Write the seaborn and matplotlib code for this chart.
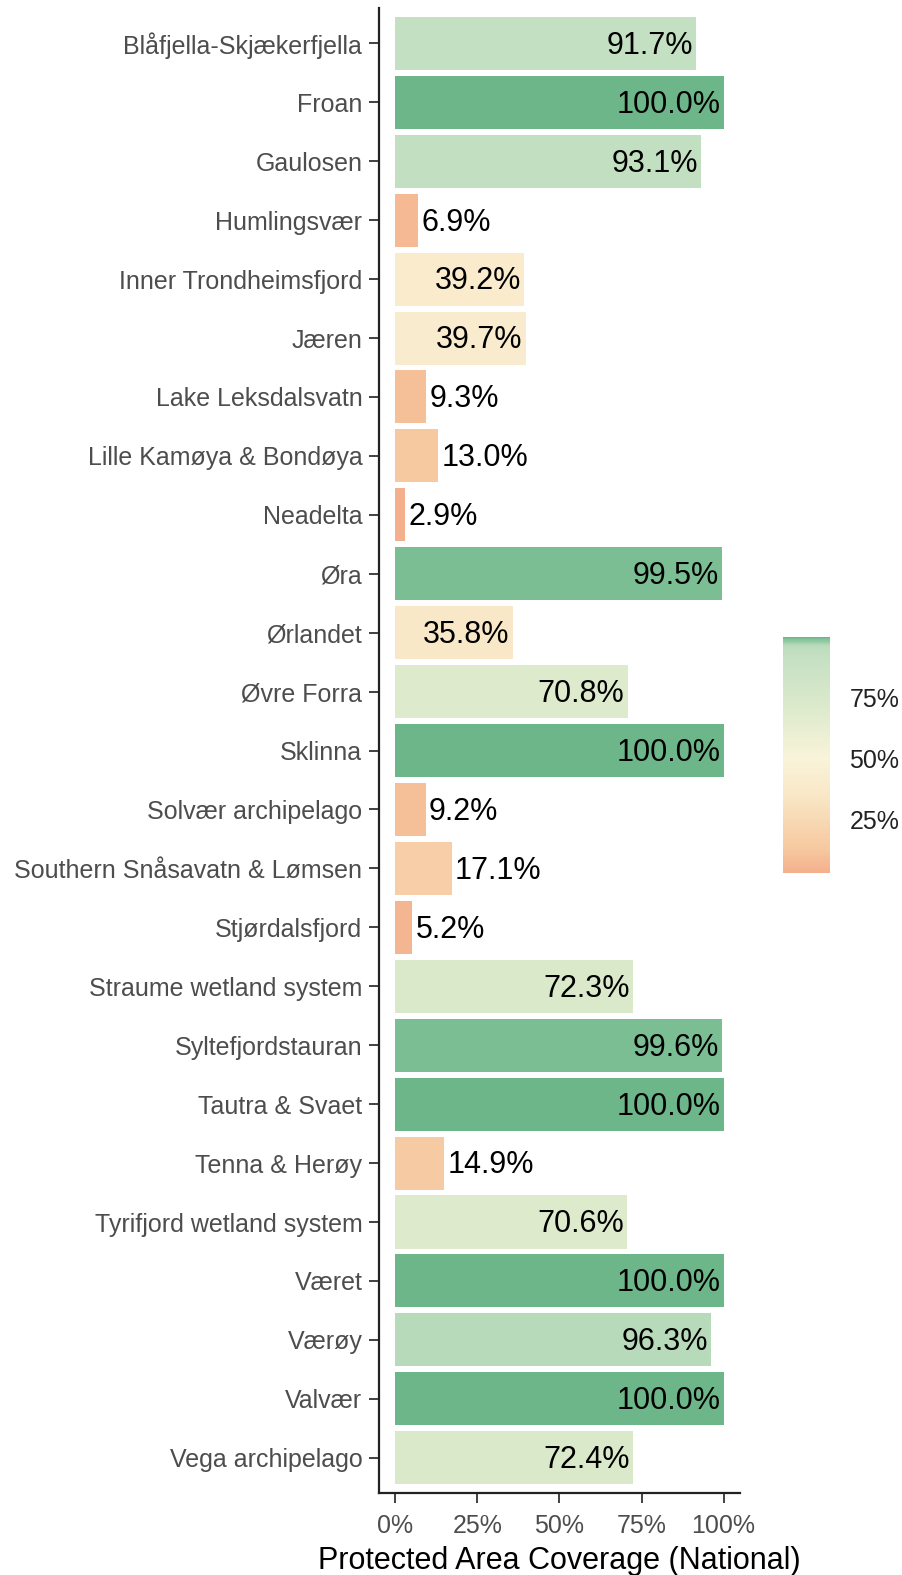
import numpy as np
import pandas as pd
import matplotlib
matplotlib.use("Agg")
import matplotlib.pyplot as plt
import seaborn as sns
from matplotlib.colors import LinearSegmentedColormap, Normalize
from matplotlib.cm import ScalarMappable

sites = ["Blåfjella-Skjækerfjella", "Froan", "Gaulosen", "Humlingsvær",
         "Inner Trondheimsfjord", "Jæren", "Lake Leksdalsvatn",
         "Lille Kamøya & Bondøya", "Neadelta", "Øra", "Ørlandet", "Øvre Forra",
         "Sklinna", "Solvær archipelago", "Southern Snåsavatn & Lømsen",
         "Stjørdalsfjord", "Straume wetland system", "Syltefjordstauran",
         "Tautra & Svaet", "Tenna & Herøy", "Tyrifjord wetland system",
         "Været", "Værøy", "Valvær", "Vega archipelago"]
coverage = [91.7, 100.0, 93.1, 6.9, 39.2, 39.7, 9.3, 13.0, 2.9, 99.5, 35.8,
            70.8, 100.0, 9.2, 17.1, 5.2, 72.3, 99.6, 100.0, 14.9, 70.6,
            100.0, 96.3, 100.0, 72.4]
cbar_ticks = [25, 50, 75]

vmin, vmax = 2.9, 100.0
stops = [(2.9, "#F4B08C"), (13.0, "#F6C9A0"), (35.8, "#F9E8C8"),
         (50.0, "#F9F3D9"), (70.8, "#DDEACC"), (91.7, "#C5E0C3"),
         (96.3, "#BCDCBD"), (99.5, "#80C196"), (100.0, "#6CB689")]
cmap = LinearSegmentedColormap.from_list(
    "cov", [((v - vmin) / (vmax - vmin), c) for v, c in stops])
norm = Normalize(vmin=vmin, vmax=vmax)

df = pd.DataFrame({"site": sites, "coverage": coverage})
palette = {s: cmap(norm(v)) for s, v in zip(sites, coverage)}

sns.set_style("white")
plt.rcParams["font.family"] = ["Liberation Sans", "DejaVu Sans"]

fig = plt.figure(figsize=(9.03, 15.75), dpi=100)
ax = fig.add_axes([0.4197, 0.052, 0.8195 - 0.4197, 0.9949 - 0.052])

sns.barplot(data=df, x="coverage", y="site", hue="site", palette=palette,
            order=sites, hue_order=sites, width=0.9, legend=False,
            saturation=1, ax=ax, edgecolor="none")

for i, v in enumerate(coverage):
    lab = f"{v:.1f}%"
    if v >= 30:
        ax.text(v - 1.0, i + 0.04, lab, ha="right", va="center", fontsize=22, color="black")
    else:
        ax.text(v + 1.0, i + 0.04, lab, ha="left", va="center", fontsize=22, color="black")

ax.set_xlim(-5, 105)
ax.set_ylim(len(sites) - 0.4, -0.6)
ax.set_xticks([0, 25, 50, 75, 100])
ax.set_xticklabels(["0%", "25%", "50%", "75%", "100%"])
ax.set_xlabel("Protected Area Coverage (National)", fontsize=22, color="black", labelpad=6)
ax.set_ylabel("")
ax.tick_params(axis="both", labelsize=18, labelcolor="#4D4D4D",
               length=7, width=1.3, color="#333333", direction="out",
               left=True, bottom=True)
ax.tick_params(axis="x", pad=8)
ax.tick_params(axis="y", pad=5)
for side in ["top", "right"]:
    ax.spines[side].set_visible(False)
for side in ["left", "bottom"]:
    ax.spines[side].set_color("#222222")
    ax.spines[side].set_linewidth(1.6)

cax = fig.add_axes([783 / 903, 1 - 873 / 1575, 47 / 903, (873 - 637) / 1575])
sm = ScalarMappable(norm=norm, cmap=cmap)
cb = fig.colorbar(sm, cax=cax)
cb.outline.set_visible(False)
cb.set_ticks(cbar_ticks)
cb.set_ticklabels([f"{t}%" for t in cbar_ticks])
cax.tick_params(axis="y", length=8, width=1.2, color="white", direction="in",
                labelsize=18, labelcolor="#222222", pad=14, left=True, right=True)

fig.savefig("out.png", dpi=100)
